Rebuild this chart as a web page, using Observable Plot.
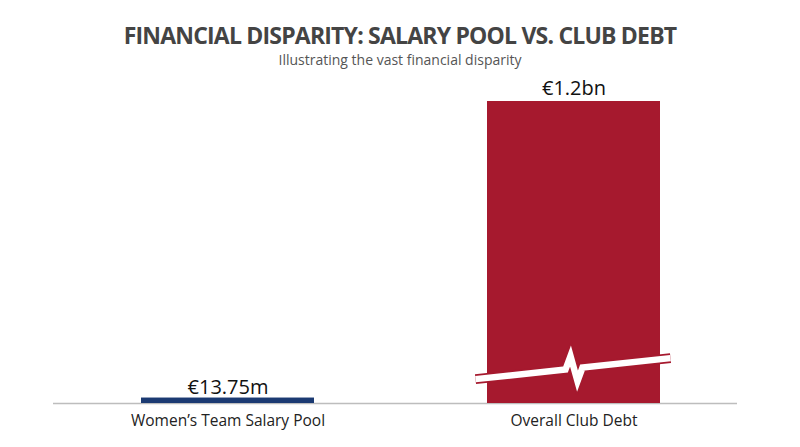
<!DOCTYPE html>
<html>
<head>
<meta charset="utf-8">
<script src="https://cdn.jsdelivr.net/npm/d3@7"></script>
<script src="https://cdn.jsdelivr.net/npm/@observablehq/plot@0.6"></script>
<style>
  html, body { margin: 0; padding: 0; background: #fff; }
  #wrap { position: relative; width: 800px; height: 447px; overflow: hidden; font-family: "Open Sans", sans-serif; }
  #title { position: absolute; left: 0; width: 800px; top: 24px; text-align: center; font-weight: 700; font-size: 23px; line-height: 23px; color: #444; letter-spacing: -0.8px; white-space: nowrap; }
  #subtitle { position: absolute; left: 0; width: 800px; top: 53px; text-align: center; font-size: 14px; line-height: 14px; color: #555; white-space: nowrap; }
  #chart { position: absolute; left: 0; top: 70px; }
</style>
</head>
<body>
<div id="wrap">
  <div id="title">FINANCIAL DISPARITY: SALARY POOL VS. CLUB DEBT</div>
  <div id="subtitle">Illustrating the vast financial disparity</div>
  <div id="chart"></div>
</div>
<script>
// ---- data ----
const categories = ["Women’s Team Salary Pool", "Overall Club Debt"];
const amountsMillionEUR = [13.75, 1200];
const valueLabels = ["€13.75m", "€1.2bn"];
const barColors = ["#1B3A72", "#A6192E"];

// axis break decoration drawn on the debt bar (value where the break sits)
const brokenCategory = "Overall Club Debt";
const breakAtValue = 137;
const breakShape = [[-98, 10.6], [-8, 1], [-3, -12.5], [4, 12.6], [9, -1], [97, -10.4]];

const data = categories.map((c, i) => ({
  category: c, value: amountsMillionEUR[i], label: valueLabels[i], color: barColors[i]
}));

const breakMark = (index, scales) => {
  const x = scales.x, y = scales.y;
  const bw = x.bandwidth ? x.bandwidth() : 0;
  const cx = x(brokenCategory) + bw / 2;
  const cy = y(breakAtValue);
  const pts = breakShape.map(([dx, dy]) => [cx + dx, cy + dy]);
  const line = d3.line();
  const g = d3.create("svg:g");
  g.append("path").attr("d", line(pts)).attr("fill", "none")
    .attr("stroke", barColors[1]).attr("stroke-width", 10)
    .attr("stroke-linejoin", "miter").attr("stroke-miterlimit", 10);
  g.append("path").attr("d", line(pts)).attr("fill", "none")
    .attr("stroke", "#fff").attr("stroke-width", 6.5)
    .attr("stroke-linejoin", "miter").attr("stroke-miterlimit", 10);
  return g.node();
};

const chart = Plot.plot({
  width: 800,
  height: 377,
  marginLeft: 53,
  marginRight: 63,
  marginTop: 31,
  marginBottom: 44,
  style: { fontFamily: "Open Sans, sans-serif", background: "#fff" },
  x: { domain: categories, range: [54.5, 746.5], paddingInner: 0.5, paddingOuter: 0.25, label: null },
  y: { domain: [0, 1200], axis: null },
  color: { type: "identity" },
  marks: [
    Plot.ruleY([0], { stroke: "#bdbdbd", strokeWidth: 1.5 }),
    Plot.barY(data.filter(d => d.category !== brokenCategory), { x: "category", y: "value", fill: "color", insetTop: -2 }),
    Plot.barY(data.filter(d => d.category === brokenCategory), { x: "category", y: "value", fill: "color" }),
    breakMark,
    Plot.text(data, { x: "category", y: "value", text: "label", lineAnchor: "bottom", dy: -6.5, fontSize: 20, fill: "#111" }),
    Plot.axisX({ tickSize: 0, tickPadding: 11, fontSize: 15.5, color: "#222", label: null })
  ]
});
document.getElementById("chart").appendChild(chart);
</script>
</body>
</html>
